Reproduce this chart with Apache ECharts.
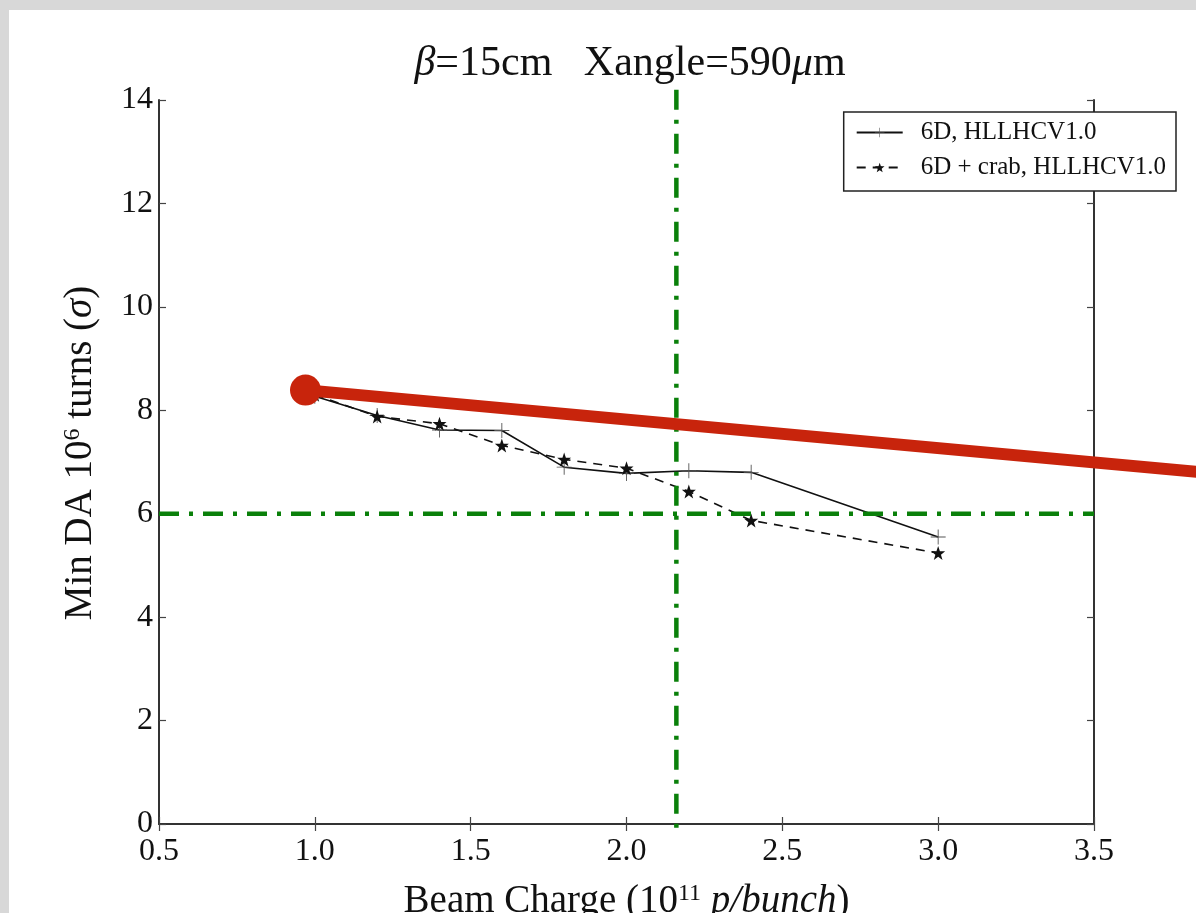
<!DOCTYPE html>
<html>
<head>
<meta charset="utf-8">
<script src="https://cdn.jsdelivr.net/npm/echarts@6/dist/echarts.min.js"></script>
<style>
html,body{margin:0;padding:0;background:#d8d8d8;overflow:hidden;}
#chart{width:1196px;height:913px;}
</style>
</head>
<body>
<div id="chart"></div>
<script>
// ---- data ----
const beamCharge = [1.0, 1.2, 1.4, 1.6, 1.8, 2.0, 2.2, 2.4, 3.0];
const da6D      = [8.27, 7.90, 7.62, 7.61, 6.90, 6.78, 6.83, 6.80, 5.55];
const da6DCrab  = [8.30, 7.88, 7.74, 7.32, 7.05, 6.88, 6.43, 5.87, 5.24];
const seriesNames = ['6D, HLLHCV1.0', '6D + crab, HLLHCV1.0'];
const hLineY = 6;            // horizontal threshold
const hLineX = [0.5, 3.5];
const vLineX = 2.16;         // vertical threshold
const vLineY = [14.2, -0.2];
const redX = [0.97, 3.9];    // red annotation line (data coordinates)
const redY = [8.39, 6.77];
const xTicks = [0.5, 3.5, 0.5]; // min, max, interval
const yTicks = [0, 14, 2];

const serif = '"Liberation Serif", "DejaVu Serif", serif';
const plusPath = 'path://M-0.6,-10 H0.6 V-0.6 H10 V0.6 H0.6 V10 H-0.6 V0.6 H-10 V-0.6 H-0.6 Z';
const starPath = 'path://M0,-10 L2.35,-3.24 L9.51,-3.09 L3.8,1.24 L5.88,8.09 L0,4 L-5.88,8.09 L-3.8,1.24 L-9.51,-3.09 L-2.35,-3.24 Z';

const chart = echarts.init(document.getElementById('chart'), null, {renderer: 'canvas'});

const axisLine = {show: true, lineStyle: {color: '#333', width: 2}};
const tick = {show: true, inside: true, length: 7, lineStyle: {color: '#444', width: 1.2}};
const nameRich = {
  a: {fontFamily: serif, fontSize: 39, color: '#111', fontWeight: 'normal'},
  it: {fontFamily: serif, fontSize: 39, fontStyle: 'italic', color: '#111', fontWeight: 'normal'},
  sup: {fontFamily: serif, fontSize: 24, color: '#111', verticalAlign: 'top', padding: [0, 0, 16, 0]}
};

const option = {
  backgroundColor: '#d8d8d8',
  animation: false,
  graphic: [{
    id: 'panel', type: 'rect', z: -10, silent: true,
    shape: {x: 9, y: 10, width: 1200, height: 920},
    style: {fill: '#ffffff'}
  }],
  title: {
    left: 625, top: 38, textAlign: 'center',
    text: '{it|β}{n|=15cm   Xangle=590}{it|μ}{n|m}',
    textStyle: {
      fontWeight: 'normal',
      rich: {
        n: {fontFamily: serif, fontSize: 42, color: '#111', fontWeight: 'normal'},
        it: {fontFamily: serif, fontSize: 42, fontStyle: 'italic', color: '#111', fontWeight: 'normal'}
      }
    }
  },
  legend: {
    top: 112, right: 20, orient: 'vertical',
    backgroundColor: '#fff', borderColor: '#222', borderWidth: 1.5,
    padding: [8, 10, 11, 12], itemGap: 10, itemWidth: 46, itemHeight: 12,
    textStyle: {fontFamily: serif, fontSize: 25, color: '#111', padding: [0, 0, 0, 13]},
    data: seriesNames, z: 20
  },
  grid: {left: 159, right: 102, top: 100, bottom: 89, containLabel: false, outerBoundsMode: 'none'},
  xAxis: [{
    type: 'value', min: xTicks[0], max: xTicks[1], interval: xTicks[2],
    position: 'bottom',
    axisLine: axisLine, axisTick: tick, splitLine: {show: false},
    axisLabel: {fontFamily: serif, fontSize: 32, color: '#111', margin: 12,
      formatter: v => v.toFixed(1)},
    name: '{a|Beam Charge (10}{sup|11}{a| }{it|p/bunch}{a|)}',
    nameLocation: 'middle', nameGap: 58,
    nameTextStyle: {rich: nameRich}
  }, {
    type: 'value', min: xTicks[0], max: xTicks[1], interval: xTicks[2],
    position: 'top',
    axisLine: axisLine, axisTick: tick, splitLine: {show: false},
    axisLabel: {show: false}
  }],
  yAxis: [{
    type: 'value', min: yTicks[0], max: yTicks[1], interval: yTicks[2],
    position: 'left',
    axisLine: axisLine, axisTick: tick, splitLine: {show: false},
    axisLabel: {fontFamily: serif, fontSize: 32, color: '#111', margin: 6},
    name: '{a|Min DA 10}{sup|6}{a| turns (}{it|σ}{a|)}',
    nameLocation: 'middle', nameGap: 58, nameRotate: 90,
    nameTextStyle: {rich: nameRich, padding: [0, 0, 0, 18]}
  }, {
    type: 'value', min: yTicks[0], max: yTicks[1], interval: yTicks[2],
    position: 'right',
    axisLine: axisLine, axisTick: tick, splitLine: {show: false},
    axisLabel: {show: false}
  }],
  series: [{
    name: seriesNames[0], type: 'line',
    data: beamCharge.map((x, i) => [x, da6D[i]]),
    symbol: plusPath, symbolSize: 15, showAllSymbol: true,
    lineStyle: {color: '#111', width: 1.6, type: 'solid'},
    itemStyle: {color: '#555'}, z: 3
  }, {
    name: seriesNames[1], type: 'line',
    data: beamCharge.map((x, i) => [x, da6DCrab[i]]),
    symbol: starPath, symbolSize: 14, showAllSymbol: true,
    lineStyle: {color: '#111', width: 1.6, type: [9, 7]},
    itemStyle: {color: '#111'}, z: 3
  }, {
    name: 'hline', type: 'line', clip: false, silent: true,
    data: hLineX.map(x => [x, hLineY]), symbol: 'none',
    lineStyle: {color: '#0a800a', width: 4.5, type: [20, 10, 4, 10]}, z: 4
  }, {
    name: 'vline', type: 'line', clip: false, silent: true,
    data: vLineY.map(y => [vLineX, y]), symbol: 'none',
    lineStyle: {color: '#0a800a', width: 4.5, type: [20, 10, 4, 10]}, z: 4
  }]
};
chart.setOption(option);

// red annotation: positioned through the chart's own scales
const p0 = chart.convertToPixel({gridIndex: 0}, [redX[0], redY[0]]);
const p1 = chart.convertToPixel({gridIndex: 0}, [redX[1], redY[1]]);
chart.setOption({
  graphic: [{
    id: 'redLine', type: 'line', z: 50, silent: true,
    shape: {x1: p0[0], y1: p0[1], x2: p1[0], y2: p1[1]},
    style: {stroke: '#c8240c', lineWidth: 12}
  }, {
    id: 'redDot', type: 'circle', z: 51, silent: true,
    shape: {cx: p0[0], cy: p0[1], r: 15.5},
    style: {fill: '#c8240c'}
  }]
});
</script>
</body>
</html>
